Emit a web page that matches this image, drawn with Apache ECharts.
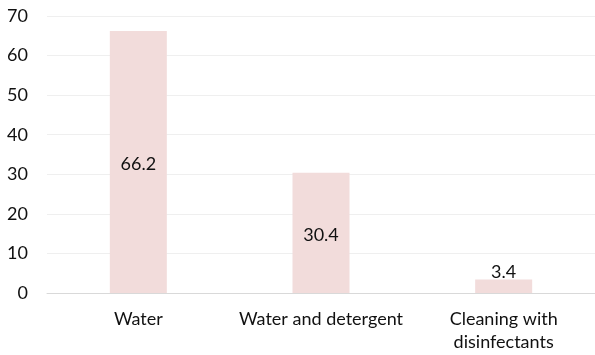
<!DOCTYPE html>
<html>
<head>
<meta charset="utf-8">
<script src="https://cdn.jsdelivr.net/npm/echarts@6/dist/echarts.min.js"></script>
<style>
  html, body { margin: 0; padding: 0; background: #fff; }
  #chart { width: 595px; height: 355px; }
</style>
</head>
<body>
<div id="chart"></div>
<script>
// Cleaning method shares (%)
const categories = ['Water', 'Water and detergent', 'Cleaning with\ndisinfectants'];
const values = [66.2, 30.4, 3.4];
const labelPositions = ['inside', 'inside', 'top'];

const chart = echarts.init(document.getElementById('chart'));
const font = 'Lato, "Open Sans", sans-serif';
const textColor = '#111111';

chart.setOption({
  animation: false,
  grid: { left: 47, right: -4, top: 16, bottom: 62, containLabel: false },
  xAxis: {
    type: 'category',
    data: categories,
    axisLine: { lineStyle: { color: '#d9d9d9', width: 1 } },
    axisTick: { show: false },
    axisLabel: {
      color: textColor, fontSize: 18, fontFamily: font,
      margin: 15, lineHeight: 23, interval: 0
    }
  },
  yAxis: {
    type: 'value',
    min: 0, max: 70, interval: 10,
    axisLine: { show: false },
    axisTick: { show: false },
    splitLine: { lineStyle: { color: '#efefef', width: 1 } },
    axisLabel: { color: textColor, fontSize: 18, fontFamily: font, margin: 19 }
  },
  series: [{
    type: 'bar',
    barWidth: 57,
    data: values.map((v, i) => ({
      value: v,
      label: { position: labelPositions[i] }
    })),
    itemStyle: { color: '#f2dcdb' },
    label: {
      show: true,
      color: textColor,
      fontSize: 18,
      fontFamily: font,
      distance: 0,
      offset: [0, 2]
    }
  }]
});
</script>
</body>
</html>
